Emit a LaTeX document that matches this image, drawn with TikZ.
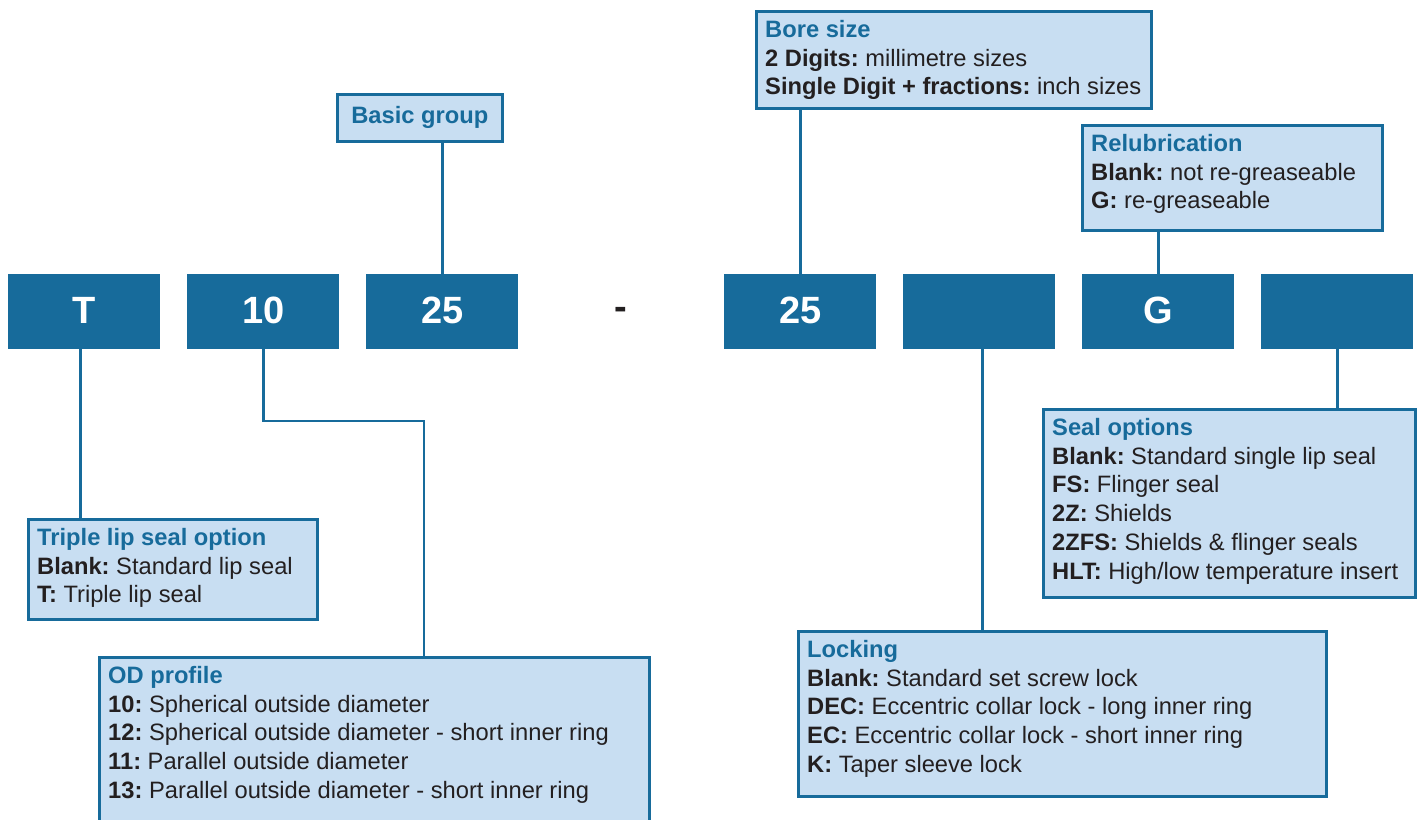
\documentclass[tikz,border=0pt]{standalone}
\usepackage{fontspec}
\setmainfont{Liberation Sans}
\usetikzlibrary{calc}
\definecolor{skfblue}{HTML}{176B9B}
\definecolor{lightfill}{HTML}{C8DEF2}
\definecolor{txtdark}{HTML}{231F20}
\frenchspacing
\begin{document}
\begin{tikzpicture}[x=1pt,y=-1pt,
  codebox/.style={fill=skfblue, draw=none, minimum width=152pt, minimum height=75pt, anchor=north west, inner sep=0pt, text=white, font=\fontsize{38}{40}\selectfont\bfseries},
  infobox/.style={fill=lightfill, draw=skfblue, line width=2.6pt, anchor=north west, inner sep=0pt},
  infotext/.style={anchor=north west, align=left, inner sep=0pt, text=txtdark, font=\fontsize{23.7}{28.8}\selectfont},
  conn/.style={draw=skfblue, line width=2.6pt},
  ttl/.style={text=skfblue, font=\fontsize{23.7}{28.8}\selectfont\bfseries},
]
\useasboundingbox (0,0) rectangle (1421,819);
\clip (0,0) rectangle (1421,819);
\newcommand{\hd}[1]{{\color{skfblue}\bfseries #1}}
\newcommand{\up}[1]{\raisebox{3pt}{#1}}
% code boxes
\node[codebox] (cT) at (8,274) {\up{T}};
\node[codebox] (c10) at (187,274) {\up{10}};
\node[codebox] (c25) at (366,274) {\up{25}};
\node[text=txtdark, font=\fontsize{38}{40}\selectfont\bfseries] (dash) at (621,313) {-};
\node[codebox] (d25) at (724,274) {\up{25}};
\node[codebox] (cB) at (903,274) {};
\node[codebox] (cG) at (1082,274) {\up{G}};
\node[codebox] (cS) at (1261,274) {};
% info boxes
\node[infobox, minimum width=395pt, minimum height=97pt] (bore) at (755,10) {};
\node[infotext] (boretext) at (765,20) {\hd{Bore size}\\ \textbf{2 Digits:} millimetre sizes\\ \textbf{Single Digit + fractions:} inch sizes};
\node[infobox, minimum width=165pt, minimum height=47pt] (bgroup) at (336,93) {};
\node[ttl] (bgrouptext) at (bgroup.center) {Basic group};
\node[infobox, minimum width=300pt, minimum height=105pt] (relub) at (1081,124) {};
\node[infotext] (relubtext) at (1091,134) {\hd{Relubrication}\\ \textbf{Blank:} not re-greaseable\\ \textbf{G:} re-greaseable};
\node[infobox, minimum width=289pt, minimum height=100pt] (triple) at (27,518) {};
\node[infotext] (tripletext) at (37,528) {\hd{Triple lip seal option}\\ \textbf{Blank:} Standard lip seal\\ \textbf{T:} Triple lip seal};
\node[infobox, minimum width=550pt, minimum height=200pt] (od) at (98,656) {};
\node[infotext] (odtext) at (108,666) {\hd{OD profile}\\ \textbf{10:} Spherical outside diameter\\ \textbf{12:} Spherical outside diameter - short inner ring\\ \textbf{11:} Parallel outside diameter\\ \textbf{13:} Parallel outside diameter - short inner ring};
\node[infobox, minimum width=528pt, minimum height=165pt] (locking) at (797,630) {};
\node[infotext] (lockingtext) at (807,640) {\hd{Locking}\\ \textbf{Blank:} Standard set screw lock\\ \textbf{DEC:} Eccentric collar lock - long inner ring\\ \textbf{EC:} Eccentric collar lock - short inner ring\\ \textbf{K:} Taper sleeve lock};
\node[infobox, minimum width=372pt, minimum height=188pt] (seal) at (1042,408) {};
\node[infotext] (sealtext) at (1052,418) {\hd{Seal options}\\ \textbf{Blank:} Standard single lip seal\\ \textbf{FS:} Flinger seal\\ \textbf{2Z:} Shields\\ \textbf{2ZFS:} Shields \& flinger seals\\ \textbf{HLT:} High/low temperature insert};
% connectors
\draw[conn] (c25.north) -- (c25.north |- bgroup.south);
\draw[conn] (d25.north) -- (d25.north |- bore.south);
\draw[conn] (cG.north) -- (cG.north |- relub.south);
\coordinate (tx) at ($(cT.south)+(-4,0)$);
\draw[conn] (tx) -- (tx |- triple.north);
\coordinate (odbend) at (424,421);
\draw[conn] (c10.south) |- (odbend) -- (odbend |- od.north);
\coordinate (bx) at ($(cB.south)+(3,0)$);
\draw[conn] (bx) -- (bx |- locking.north);
\draw[conn] (cS.south) -- (cS.south |- seal.north);
\end{tikzpicture}
\end{document}
